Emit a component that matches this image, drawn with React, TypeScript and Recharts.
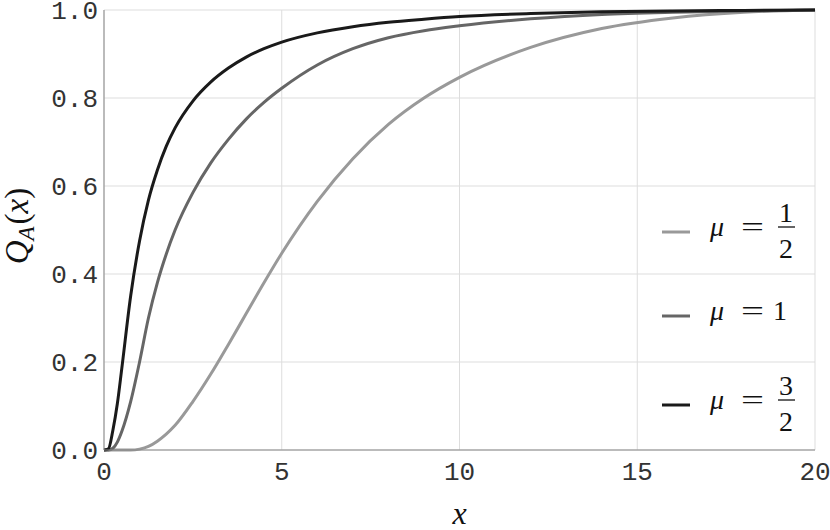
import { LineChart, Line, XAxis, YAxis, CartesianGrid, Legend, Label } from 'recharts';

// sample positions along x
const xs = [0, 0.125, 0.25, 0.375, 0.5, 0.75, 1, 1.25, 1.5, 1.75, 2, 2.5, 3, 3.5, 4, 4.5, 5, 6, 7, 8, 9, 10, 12, 14, 16, 18, 20];

// Q_A(x) for mu = 1/2, 1, 3/2
const qHalf = [0, 0, 0, 0, 0, 0, 0.002, 0.008, 0.02, 0.036, 0.056, 0.11, 0.172, 0.24, 0.31, 0.38, 0.447, 0.565, 0.662, 0.74, 0.8, 0.847, 0.915, 0.958, 0.982, 0.995, 1];
const qOne = [0, 0, 0.004, 0.018, 0.042, 0.11, 0.2, 0.3, 0.38, 0.445, 0.5, 0.585, 0.652, 0.706, 0.752, 0.79, 0.822, 0.875, 0.912, 0.937, 0.953, 0.964, 0.98, 0.99, 0.995, 0.998, 1];
const qThreeHalves = [0, 0.003, 0.045, 0.105, 0.185, 0.35, 0.475, 0.568, 0.636, 0.69, 0.732, 0.793, 0.836, 0.868, 0.893, 0.912, 0.927, 0.948, 0.962, 0.972, 0.979, 0.985, 0.992, 0.996, 0.998, 0.999, 1];

const seriesKeys = ['half', 'one', 'threeHalves'];
const seriesColors = ['#999999', '#666666', '#1a1a1a'];
const legendNum = ['1', '1', '3'];
const legendDen = ['2', '', '2'];

const xMajor = [0, 5, 10, 15, 20];
const xMinor = [1, 2, 3, 4, 6, 7, 8, 9, 11, 12, 13, 14, 16, 17, 18, 19];
const yMajor = [0, 0.2, 0.4, 0.6, 0.8, 1];
const yMinor = [0.05, 0.1, 0.15, 0.25, 0.3, 0.35, 0.45, 0.5, 0.55, 0.65, 0.7, 0.75, 0.85, 0.9, 0.95];

const data = xs.map((x, i) => ({
  x,
  half: qHalf[i],
  one: qOne[i],
  threeHalves: qThreeHalves[i],
}));

const FRAME = '#888888';
const MONO = '"Liberation Mono", "Courier New", "DejaVu Sans Mono", monospace';
const SERIF = '"Liberation Serif", "Times New Roman", "DejaVu Serif", serif';

const monoStyle = { fontFamily: MONO, fontSize: 26 };
const serifStyle = { fontFamily: SERIF, fontSize: 28 };

const XTick = (props: any) => (
  <text x={props.x} y={props.y + 18} textAnchor="middle" style={monoStyle} fill="#333">
    {props.payload.value}
  </text>
);

const YTick = (props: any) => (
  <text x={props.x} y={props.y + 9} textAnchor="end" style={monoStyle} fill="#333">
    {Number(props.payload.value).toFixed(1)}
  </text>
);

const rowLine = [42, 126, 215];

function MathLegend() {
  return (
    <svg width={180} height={270} style={{ display: 'block' }}>
      {seriesKeys.map((k, i) => {
        const cy = rowLine[i];
        const bar = cy - 5;
        return (
          <g key={k}>
            <line x1={12} x2={40} y1={cy} y2={cy} stroke={seriesColors[i]} strokeWidth={3} />
            <text x={60} y={cy + 4} style={{ ...serifStyle, fontStyle: 'italic' }} fill="#111">μ</text>
            <text x={91} y={cy + 4} style={serifStyle} fill="#111" textLength={23} lengthAdjust="spacingAndGlyphs">=</text>
            {legendDen[i] ? (
              <g>
                <text x={136} y={bar - 5} textAnchor="middle" style={serifStyle} fill="#111">{legendNum[i]}</text>
                <line x1={128} x2={145} y1={bar} y2={bar} stroke="#111" strokeWidth={1.3} />
                <text x={136} y={bar + 31} textAnchor="middle" style={serifStyle} fill="#111">{legendDen[i]}</text>
              </g>
            ) : (
              <text x={123} y={cy + 4} style={serifStyle} fill="#111">{legendNum[i]}</text>
            )}
          </g>
        );
      })}
    </svg>
  );
}

export default function App() {
  return (
    <div style={{ position: 'absolute', left: 0, top: 0, width: 830, height: 530, background: '#fff' }}>
      <LineChart width={830} height={530} data={data} margin={{ top: 10, right: 15, left: 0, bottom: 0 }}>
        <CartesianGrid xAxisId="b" yAxisId="l" stroke="#dddddd" strokeWidth={1} />
        <XAxis
          xAxisId="b"
          dataKey="x"
          type="number"
          domain={[0, 20]}
          ticks={xMajor}
          interval={0}
          height={80}
          tickSize={0}
          tickMargin={12}
          tickLine={false}
          axisLine={{ stroke: FRAME }}
          tick={<XTick />}
        >
          <Label
            content={(p: any) => (
              <text
                x={p.viewBox.x + p.viewBox.width / 2}
                y={p.viewBox.y + 74}
                textAnchor="middle"
                style={{ fontFamily: SERIF, fontSize: 32, fontStyle: 'italic' }}
                fill="#111"
              >
                x
              </text>
            )}
          />
        </XAxis>
        <XAxis xAxisId="bMaj" type="number" domain={[0, 20]} ticks={xMajor} interval={0} mirror height={0} tickSize={6} tick={false} tickLine={{ stroke: FRAME }} axisLine={false} />
        <XAxis xAxisId="bMin" type="number" domain={[0, 20]} ticks={xMinor} interval={0} mirror height={0} tickSize={3} tick={false} tickLine={{ stroke: FRAME }} axisLine={false} />
        <XAxis xAxisId="tMaj" orientation="top" type="number" domain={[0, 20]} ticks={xMajor} interval={0} mirror height={0} tickSize={6} tick={false} tickLine={{ stroke: FRAME }} axisLine={{ stroke: FRAME }} />
        <XAxis xAxisId="tMin" orientation="top" type="number" domain={[0, 20]} ticks={xMinor} interval={0} mirror height={0} tickSize={3} tick={false} tickLine={{ stroke: FRAME }} axisLine={false} />
        <YAxis
          yAxisId="l"
          type="number"
          domain={[0, 1]}
          ticks={yMajor}
          interval={0}
          width={104}
          tickSize={0}
          tickMargin={6}
          tickLine={false}
          axisLine={{ stroke: FRAME }}
          tick={<YTick />}
        >
          <Label
            content={(p: any) => {
              const cx = p.viewBox.x + 28;
              const cy = p.viewBox.y + p.viewBox.height / 2 - 4;
              return (
                <text transform={`translate(${cx},${cy}) rotate(-90)`} textAnchor="middle" style={{ fontFamily: SERIF, fontSize: 33 }} fill="#111">
                  <tspan fontStyle="italic">Q</tspan>
                  <tspan fontStyle="italic" fontSize={23} dy={6}>A</tspan>
                  <tspan dy={-6} dx={2}>(</tspan>
                  <tspan fontStyle="italic">x</tspan>
                  <tspan>)</tspan>
                </text>
              );
            }}
          />
        </YAxis>
        <YAxis yAxisId="lMaj" type="number" domain={[0, 1]} ticks={yMajor} interval={0} mirror width={0} tickSize={6} tick={false} tickLine={{ stroke: FRAME }} axisLine={false} />
        <YAxis yAxisId="lMin" type="number" domain={[0, 1]} ticks={yMinor} interval={0} mirror width={0} tickSize={3} tick={false} tickLine={{ stroke: FRAME }} axisLine={false} />
        <YAxis yAxisId="rMaj" orientation="right" type="number" domain={[0, 1]} ticks={yMajor} interval={0} mirror width={0} tickSize={6} tick={false} tickLine={{ stroke: FRAME }} axisLine={{ stroke: FRAME }} />
        <YAxis yAxisId="rMin" orientation="right" type="number" domain={[0, 1]} ticks={yMinor} interval={0} mirror width={0} tickSize={3} tick={false} tickLine={{ stroke: FRAME }} axisLine={false} />
        <Legend
          layout="horizontal"
          verticalAlign="middle"
          align="center"
          wrapperStyle={{ left: 650, top: 190, width: 180, height: 270 }}
          content={() => <MathLegend />}
        />
        {seriesKeys.map((k, i) => (
          <Line
            key={k}
            xAxisId="b"
            yAxisId="l"
            type="monotone"
            dataKey={k}
            stroke={seriesColors[i]}
            strokeWidth={3}
            dot={false}
            activeDot={false}
            isAnimationActive={false}
          />
        ))}
      </LineChart>
    </div>
  );
}
